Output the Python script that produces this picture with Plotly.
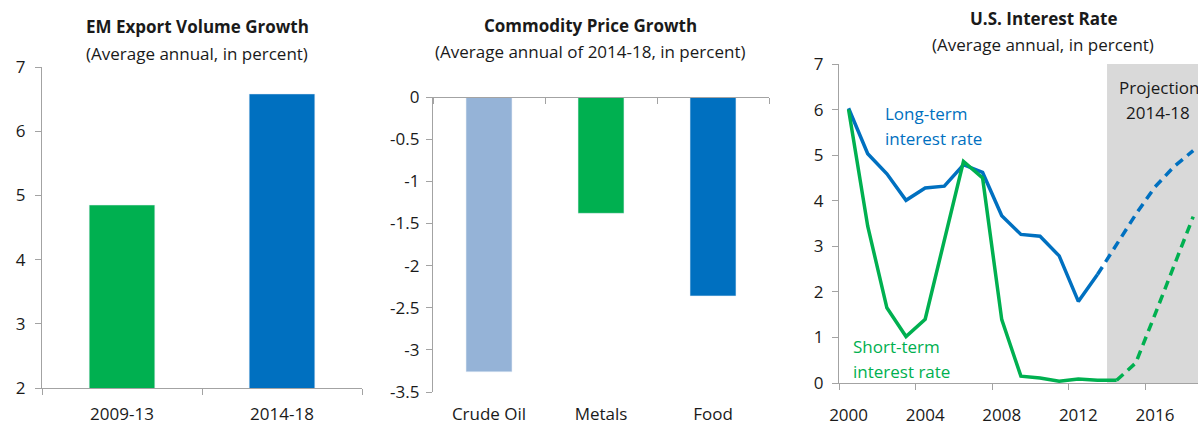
import plotly.graph_objects as go

# panel 1: EM export volume growth
export_periods = ["2009-13", "2014-18"]
export_growth = [4.85, 6.58]

# panel 2: commodity price growth
commodities = ["Crude Oil", "Metals", "Food"]
price_growth = [-3.26, -1.38, -2.36]
price_ticks = [0, -0.5, -1, -1.5, -2, -2.5, -3, -3.5]
price_tick_text = ["0", "-0.5", "-1", "-1.5", "-2", "-2.5", "-3", "-3.5"]

# panel 3: US interest rates
lt_years = [2000, 2001, 2002, 2003, 2004, 2005, 2006, 2007, 2008, 2009, 2010, 2011, 2012, 2013]
lt_rate = [6.03, 5.03, 4.59, 4.01, 4.28, 4.32, 4.79, 4.62, 3.67, 3.26, 3.22, 2.79, 1.79, 2.38]
lt_proj_years = [2013, 2014, 2015, 2016, 2017, 2018]
lt_proj = [2.38, 3.05, 3.70, 4.30, 4.75, 5.10]

st_years = [2000, 2001, 2002, 2003, 2004, 2005, 2006, 2007, 2008, 2009, 2010, 2011, 2012, 2013, 2014]
st_rate = [6.00, 3.44, 1.65, 1.02, 1.40, 3.15, 4.86, 4.50, 1.39, 0.15, 0.11, 0.04, 0.09, 0.06, 0.06]
st_proj_years = [2014, 2015, 2016, 2017, 2018]
st_proj = [0.06, 0.44, 1.50, 2.60, 3.65]

year_ticks = [2000, 2004, 2008, 2012, 2016]
year_bounds = [1999.5, 2003.5, 2007.5, 2011.5, 2015.5]
proj_start = 2013.5

GREEN = "#00B050"
BLUE = "#0070C0"
LIGHTBLUE = "#95B3D7"
AXIS = "#A3A3A3"
FONT = "Open Sans"

W, H = 1198, 427

def px_x(p):
    return p / W

def px_y(p):
    return 1 - p / H

fig = go.Figure()

fig.add_trace(go.Bar(x=export_periods, y=export_growth, marker_color=[GREEN, BLUE],
                     width=0.41, xaxis="x", yaxis="y"))
fig.add_trace(go.Bar(x=commodities, y=price_growth, marker_color=[LIGHTBLUE, GREEN, BLUE],
                     width=0.41, xaxis="x2", yaxis="y2"))
# dummy trace so the zero-line axis of panel 2 is drawn
fig.add_trace(go.Scatter(x=[], y=[], xaxis="x4", yaxis="y2", hoverinfo="skip"))

fig.add_trace(go.Scatter(x=lt_years, y=lt_rate, mode="lines", line=dict(color=BLUE, width=3.5),
                         xaxis="x3", yaxis="y3"))
fig.add_trace(go.Scatter(x=lt_proj_years, y=lt_proj, mode="lines",
                         line=dict(color=BLUE, width=3.5, dash="9px,6px"), xaxis="x3", yaxis="y3"))
fig.add_trace(go.Scatter(x=st_years, y=st_rate, mode="lines", line=dict(color=GREEN, width=3.5),
                         xaxis="x3", yaxis="y3"))
fig.add_trace(go.Scatter(x=st_proj_years, y=st_proj, mode="lines",
                         line=dict(color=GREEN, width=3.5, dash="9px,6px"), xaxis="x3", yaxis="y3"))

tick_font = dict(family=FONT, size=17, color="#1a1a1a")
ax_common = dict(showgrid=False, zeroline=False, linecolor=AXIS, linewidth=1.3, automargin=False,
                 tickcolor=AXIS, tickwidth=1.3, ticklen=6, tickfont=tick_font, fixedrange=True)

fig.update_layout(
    width=W, height=H,
    margin=dict(l=0, r=0, t=0, b=0, pad=0, autoexpand=False),
    paper_bgcolor="white", plot_bgcolor="white",
    showlegend=False,
    font=dict(family=FONT, color="#1a1a1a"),
    xaxis=dict(domain=[px_x(42), px_x(362)], anchor="y", showline=True, ticks="outside",
               tickson="boundaries", ticklabelstandoff=10, **ax_common),
    yaxis=dict(domain=[px_y(388), px_y(67)], anchor="x", range=[2, 7], dtick=1,
               showline=True, ticks="outside", ticklabelstandoff=6, **ax_common),
    xaxis2=dict(domain=[px_x(433), px_x(769)], anchor="y2", showline=False, ticks="",
                range=[-0.5, 2.5], ticklabelstandoff=10, **ax_common),
    yaxis2=dict(domain=[px_y(392), px_y(97)], anchor="x2", range=[-3.5, 0],
                tickvals=price_ticks, ticktext=price_tick_text,
                showline=True, ticks="outside", ticklabelstandoff=3, **ax_common),
    xaxis4=dict(overlaying="x2", anchor="free", position=px_y(97), side="bottom",
                range=[-0.5, 2.5], tickvals=[-0.5, 0.5, 1.5, 2.5], showticklabels=False,
                showline=True, ticks="outside", **ax_common),
    xaxis3=dict(domain=[px_x(839), 1.0], anchor="y3", range=[1999.5, 2018.25],
                tickvals=year_ticks, ticks="", showline=True, ticklabelstandoff=16,
                minor=dict(tickvals=year_bounds, ticks="outside", ticklen=6,
                           tickcolor=AXIS, tickwidth=1.3),
                **ax_common),
    yaxis3=dict(domain=[px_y(383), px_y(64)], anchor="x3", range=[0, 7], dtick=1,
                showline=True, ticks="outside", ticklabelstandoff=5, **ax_common),
)

# projection shading
fig.add_shape(type="rect", xref="x3", yref="y3", x0=proj_start, x1=2018.25, y0=0, y1=7,
              fillcolor="#D9D9D9", line_width=0, layer="below")

def note(x, y, text, size=17, bold=False, color="#1a1a1a", xanchor="center"):
    if bold:
        text = "<b>" + text + "</b>"
    fig.add_annotation(x=x, y=y, xref="paper", yref="paper", text=text, showarrow=False,
                       xanchor=xanchor, yanchor="middle",
                       font=dict(family=FONT, size=size, color=color))

# titles
note(px_x(197), px_y(27), "EM Export Volume Growth", size=17, bold=True)
note(px_x(197), px_y(53), "(Average annual, in percent)", size=17)
note(px_x(590), px_y(26), "Commodity Price Growth", size=17, bold=True)
note(px_x(590), px_y(51), "(Average annual of 2014-18, in percent)", size=17)
note(px_x(1043), px_y(18), "U.S. Interest Rate", size=17, bold=True)
note(px_x(1043), px_y(44), "(Average annual, in percent)", size=17)

# panel 3 labels
note(px_x(883), px_y(113), "Long-term", color=BLUE, xanchor="left")
note(px_x(883), px_y(138), "interest rate", color=BLUE, xanchor="left")
note(px_x(851), px_y(346), "Short-term", color=GREEN, xanchor="left")
note(px_x(851), px_y(371), "interest rate", color=GREEN, xanchor="left")
note(px_x(1117), px_y(87), "Projection", xanchor="left")
note(px_x(1158), px_y(112), "2014-18")

# page has a default 8px body margin; drop it so the figure fills the window
fig.write_html("out.html", config={"displayModeBar": False},
               post_script="document.body.style.margin = '0';")
